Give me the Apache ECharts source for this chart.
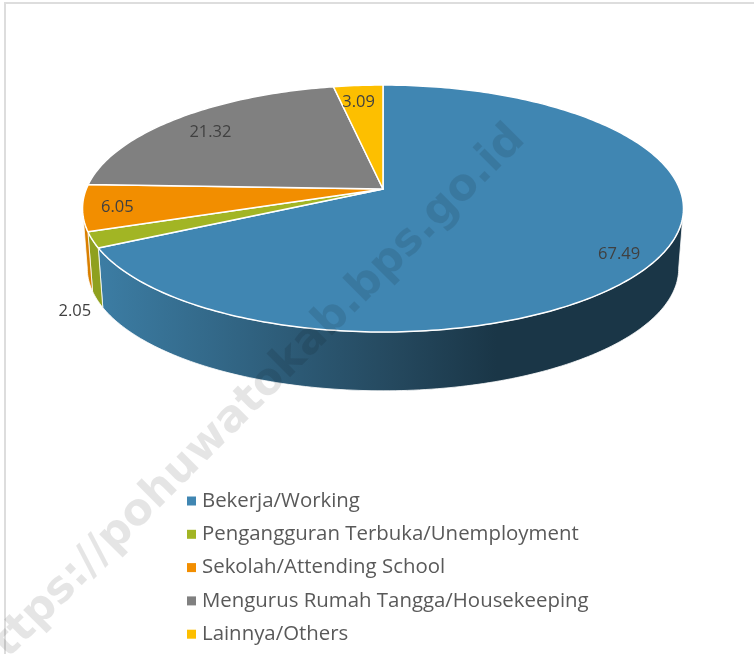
<!DOCTYPE html>
<html>
<head>
<meta charset="utf-8">
<style>
  html, body { margin: 0; padding: 0; background: #fff; }
  #main { width: 754px; height: 654px; }
</style>
<script src="https://cdn.jsdelivr.net/npm/echarts@6/dist/echarts.min.js"></script>
</head>
<body>
<div id="main"></div>
<script>
const categories = [
  'Bekerja/Working',
  'Pengangguran Terbuka/Unemployment',
  'Sekolah/Attending School',
  'Mengurus Rumah Tangga/Housekeeping',
  'Lainnya/Others'
];
const values = [67.49, 2.05, 6.05, 21.32, 3.09];
const colors = ['#4086b2', '#a2b524', '#f28e00', '#808080', '#fdbf00'];

// label placement: radius factor along the slice middle, plus extra shift
const labelRadius = [0.88, 1.05, 0.89, 0.83, 0.84];
const labelShift = [[-4, 6], [-2, 69], [1, 2], [0, 3], [-3, 2]];

const sideColors = [
  new echarts.graphic.LinearGradient(0, 0, 1, 0, [
    { offset: 0, color: '#3c7da4' },
    { offset: 0.5, color: '#25495f' },
    { offset: 0.68, color: '#1a3647' },
    { offset: 1, color: '#1a3647' }
  ]),
  '#8fa01f',
  '#d97f00',
  '#6c6c6c',
  '#d8a300'
];

// perspective circles for the top face and the bottom rim
const topRim = { x: 383, y: 189, a: 296.7, b: 120.4, k: 0.158 };
const bottomRim = { x: 383, y: 249, a: 292, b: 119.4, k: 0.158 };
const frontStart = 99;
const frontEnd = 261;

const total = values.reduce((s, v) => s + v, 0);

function project(rim, deg, r) {
  const t = deg * Math.PI / 180;
  const u = Math.sin(t) * r;
  const v = Math.cos(t) * r;
  const w = 1 + rim.k * v;
  return [rim.x + rim.a * u / w, rim.y - rim.b * v / w];
}

function arc(rim, from, to) {
  const pts = [];
  const n = Math.max(2, Math.ceil(Math.abs(to - from)));
  for (let i = 0; i <= n; i++) {
    pts.push(project(rim, from + (to - from) * i / n, 1));
  }
  return pts;
}

function sliceRange(index) {
  let start = 0;
  for (let i = 0; i < index; i++) start += values[i];
  return [start / total * 360, (start + values[index]) / total * 360];
}

function renderSlice(index) {
  return function () {
    const range = sliceRange(index);
    const children = [];

    // side wall, only the part facing the viewer
    const from = Math.max(range[0], frontStart);
    const to = Math.min(range[1], frontEnd);
    if (to > from) {
      children.push({
        type: 'polygon',
        shape: { points: arc(topRim, from, to).concat(arc(bottomRim, to, from)) },
        style: { fill: sideColors[index], stroke: '#fff', lineWidth: 0.8 }
      });
    }

    // top face
    children.push({
      type: 'polygon',
      shape: { points: [[topRim.x, topRim.y]].concat(arc(topRim, range[0], range[1])) },
      style: { fill: colors[index], stroke: '#fff', lineWidth: 1.5, lineJoin: 'round' }
    });

    const mid = project(topRim, (range[0] + range[1]) / 2, labelRadius[index]);
    children.push({
      type: 'text',
      z2: 10,
      style: {
        x: mid[0] + labelShift[index][0],
        y: mid[1] + labelShift[index][1],
        text: values[index].toFixed(2),
        fill: '#404040',
        font: '16.5px "Open Sans"',
        align: 'center',
        verticalAlign: 'middle'
      }
    });
    return { type: 'group', children: children };
  };
}

const chart = echarts.init(document.getElementById('main'));

chart.setOption({
  animation: false,
  backgroundColor: '#fff',
  legend: {
    orient: 'vertical',
    left: 182,
    top: 486,
    icon: 'rect',
    itemWidth: 9,
    itemHeight: 9,
    itemGap: 13.3,
    data: categories,
    textStyle: {
      color: '#595959',
      fontFamily: 'Open Sans',
      fontSize: 20.4,
      padding: [0, 0, 0, 1]
    }
  },
  graphic: [
    {
      type: 'rect',
      silent: true,
      z: -1,
      shape: { x: 5, y: 3, width: 900, height: 900 },
      style: { fill: '#fff', stroke: '#dddddd', lineWidth: 2 }
    },
    {
      type: 'text',
      silent: true,
      z: 100,
      x: 248,
      y: 403,
      rotation: Math.PI / 4,
      style: {
        text: 'https://pohuwatokab.bps.go.id',
        fill: 'rgba(0,0,0,0.1)',
        font: 'bold 44px "DejaVu Sans"',
        align: 'center',
        verticalAlign: 'middle'
      }
    }
  ],
  series: categories.map((name, i) => ({
    type: 'custom',
    name: name,
    coordinateSystem: 'none',
    silent: true,
    itemStyle: { color: colors[i] },
    renderItem: renderSlice(i),
    data: [[values[i]]]
  }))
});
</script>
</body>
</html>
